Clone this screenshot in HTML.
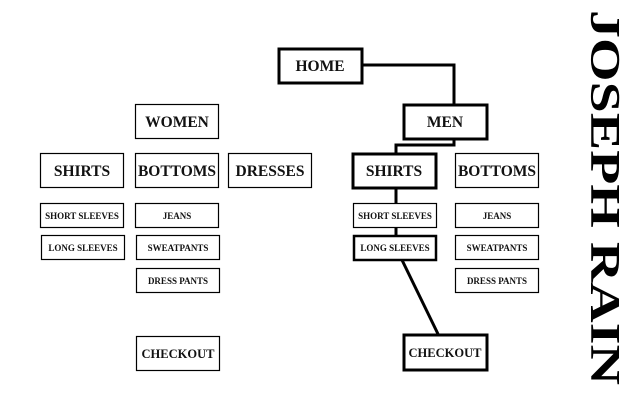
<!DOCTYPE html>
<html><head><meta charset="utf-8"><style>
html,body{margin:0;padding:0;background:#fff;}
</style></head><body>
<svg width="640" height="413" xmlns="http://www.w3.org/2000/svg" style="display:block">
<g fill="none" stroke="#000" stroke-width="3">
<polyline points="362,65 454,65 454,104"/>
<polyline points="454,139 454,145 396,145 396,153"/>
<line x1="396" y1="188" x2="396" y2="203"/>
<line x1="396" y1="228" x2="396" y2="235"/>
<line x1="402" y1="260" x2="438" y2="334"/>
</g>
<g fill="#fff" stroke="#000">
<rect x="279" y="49" width="83" height="34" stroke-width="3"/>
<rect x="404" y="105" width="83" height="34" stroke-width="3"/>
<rect x="353" y="154" width="83" height="34" stroke-width="3"/>
<rect x="455.5" y="153.5" width="83" height="34" stroke-width="1.2"/>
<rect x="353.5" y="203.5" width="83" height="24" stroke-width="1.2"/>
<rect x="354" y="236" width="82" height="24" stroke-width="2.5"/>
<rect x="455.5" y="203.5" width="83" height="24" stroke-width="1.2"/>
<rect x="455.5" y="235.5" width="83" height="24" stroke-width="1.2"/>
<rect x="455.5" y="268.5" width="83" height="24" stroke-width="1.2"/>
<rect x="404" y="335" width="83" height="35" stroke-width="3"/>
<rect x="135.5" y="104.5" width="83" height="34" stroke-width="1.2"/>
<rect x="40.5" y="153.5" width="83" height="34" stroke-width="1.2"/>
<rect x="135.5" y="153.5" width="83" height="34" stroke-width="1.2"/>
<rect x="228.5" y="153.5" width="83" height="34" stroke-width="1.2"/>
<rect x="40.5" y="203.5" width="83" height="24" stroke-width="1.2"/>
<rect x="41.5" y="235.5" width="83" height="24" stroke-width="1.2"/>
<rect x="135.5" y="203.5" width="83" height="24" stroke-width="1.2"/>
<rect x="136.5" y="235.5" width="83" height="24" stroke-width="1.2"/>
<rect x="136.5" y="268.5" width="83" height="24" stroke-width="1.2"/>
<rect x="136.5" y="336.5" width="83" height="34" stroke-width="1.2"/>
</g>
<g font-family="Liberation Serif, serif" font-weight="bold" text-anchor="middle" fill="#111">
<g font-size="15.5">
<text x="320" y="71">HOME</text>
<text x="445" y="127">MEN</text>
<text x="394" y="176">SHIRTS</text>
<text x="497" y="176">BOTTOMS</text>
<text x="177" y="127">WOMEN</text>
<text x="82" y="176">SHIRTS</text>
<text x="177" y="176">BOTTOMS</text>
<text x="270" y="176">DRESSES</text>
</g>
<g font-size="12.5">
<text x="445" y="357">CHECKOUT</text>
<text x="178" y="358">CHECKOUT</text>
</g>
<g font-size="9">
<text x="395" y="219">SHORT SLEEVES</text>
<text x="395" y="251">LONG SLEEVES</text>
<text x="497" y="219">JEANS</text>
<text x="497" y="251">SWEATPANTS</text>
<text x="497" y="284">DRESS PANTS</text>
<text x="82" y="219">SHORT SLEEVES</text>
<text x="83" y="251">LONG SLEEVES</text>
<text x="177" y="219">JEANS</text>
<text x="178" y="251">SWEATPANTS</text>
<text x="178" y="284">DRESS PANTS</text>
</g>
<text x="0" y="0" font-size="42" text-anchor="start" textLength="375" lengthAdjust="spacingAndGlyphs" transform="translate(591,10) rotate(90)" fill="#000">JOSEPH RAIN</text>
</g>
</svg>
</body></html>
